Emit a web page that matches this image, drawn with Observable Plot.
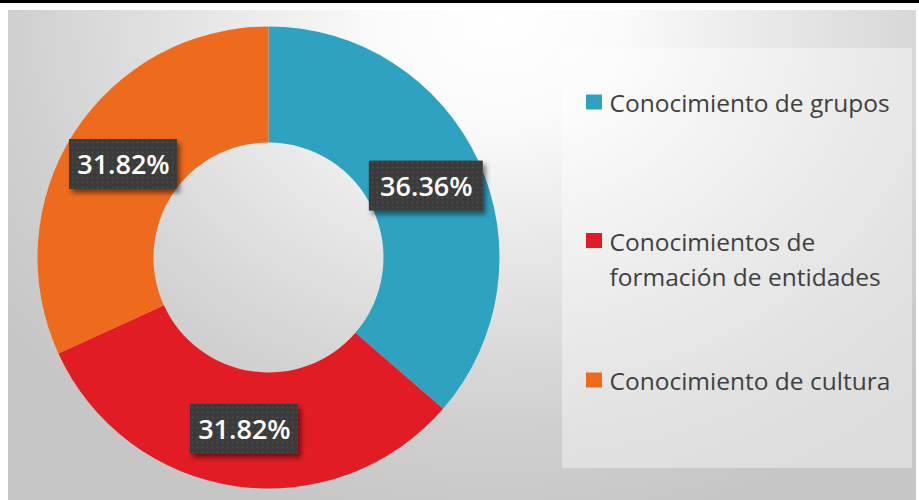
<!DOCTYPE html>
<html><head><meta charset="utf-8">
<script src="https://cdn.jsdelivr.net/npm/d3@7"></script>
<script src="https://cdn.jsdelivr.net/npm/@observablehq/plot@0.6"></script>
<style>
html,body{margin:0;padding:0;background:#fff;}
#wrap{position:relative;width:919px;height:500px;overflow:hidden;background:#fff;}
#topbar{position:absolute;left:0;top:0;width:919px;height:3px;background:#000;}
#panel{position:absolute;left:8px;top:10px;width:908px;height:490px;
 background:radial-gradient(ellipse 68% 105% at 54% 2%, #ffffff 0%, #fafafa 20%, #e4e4e4 50%, #d0d0d0 78%, #c6c6c6 100%);}
#chart{position:absolute;left:0;top:0;}
</style></head><body>
<div id="wrap"><div id="topbar"></div><div id="panel"></div><div id="chart"></div></div>
<script>
// ---- data ----
const categories = ["Conocimiento de grupos", "Conocimientos de formación de entidades", "Conocimiento de cultura"];
const legendLabels = ["Conocimiento de grupos", "Conocimientos de\nformación de entidades", "Conocimiento de cultura"];
const values = [36.36, 31.82, 31.82];
const colors = ["#2ea3c1", "#e11c24", "#ee6a1d"];

// ---- layout ----
const W = 919, H = 500;
const cx = 268.5, cy = 257.5, rOuter = 231, rInner = 115, rLabel = 173;
const legendRowY = [102, 240.5, 380];
const legendFont = 24.5, legendLine = 35;
const legendBox = {x1: 562, x2: 912, y1: 48, y2: 468};
const fontFamily = "'Open Sans', 'DejaVu Sans', sans-serif";

const pie = d3.pie().sort(null).value(d => d.value)(
  categories.map((c, i) => ({category: c, value: values[i]}))
);
const arc = d3.arc().innerRadius(rInner).outerRadius(rOuter);
const labelArc = d3.arc().innerRadius(rLabel).outerRadius(rLabel);
const fmt = v => v.toFixed(2) + "%";
const slices = pie.map(p => {
  const [lx, ly] = labelArc.centroid(p);
  return {...p, category: p.data.category, value: p.data.value, lx: cx + lx, ly: cy + ly, label: fmt(p.data.value)};
});
const legendData = categories.map((c, i) => {
  const lines = legendLabels[i].split("\n").length;
  return {category: c, label: legendLabels[i], y: legendRowY[i], ty: legendRowY[i] - 1.5 + (lines - 1) * legendLine / 2};
});
const boxWidth = d => {
  const ones = (d.label.match(/1/g) || []).length;
  return (d.label.length - ones) * 16 + ones * 10 + 18;
};

const NS = "http://www.w3.org/2000/svg";
function donutMark(index, scales) {
  const color = scales.color ?? d3.scaleOrdinal(categories, colors);
  const g = document.createElementNS(NS, "g");
  const sel = d3.select(g);
  const defs = sel.append("defs");
  const pat = defs.append("pattern").attr("id", "dots").attr("patternUnits", "userSpaceOnUse")
    .attr("width", 5).attr("height", 5);
  pat.append("rect").attr("width", 5).attr("height", 5).attr("fill", "#3a3a3a");
  pat.append("circle").attr("cx", 2.5).attr("cy", 2.5).attr("r", 1.1).attr("fill", "#4b4b4b");
  const f = defs.append("filter").attr("id", "shadow").attr("x", "-20%").attr("y", "-20%").attr("width", "150%").attr("height", "160%");
  f.append("feDropShadow").attr("dx", 3).attr("dy", 4).attr("stdDeviation", 2.5).attr("flood-color", "#000").attr("flood-opacity", 0.5);

  // legend background
  sel.append("rect").attr("x", legendBox.x1).attr("y", legendBox.y1)
    .attr("width", legendBox.x2 - legendBox.x1).attr("height", legendBox.y2 - legendBox.y1)
    .attr("fill", "#ffffff").attr("fill-opacity", 0.4);

  const ring = sel.append("g").attr("transform", `translate(${cx},${cy})`);
  ring.selectAll("path").data(slices).join("path")
    .attr("d", arc).attr("fill", d => color(d.category));

  sel.selectAll("rect.lbl").data(slices).join("rect").attr("class", "lbl")
    .attr("x", d => d.lx - boxWidth(d) / 2).attr("width", boxWidth)
    .attr("y", d => d.ly - 25).attr("height", 50)
    .attr("fill", "url(#dots)").attr("filter", "url(#shadow)");
  return g;
}

const chart = Plot.plot({
  width: W, height: H,
  margin: 0,
  x: {type: "identity", axis: null},
  y: {type: "identity", axis: null},
  color: {domain: categories, range: colors},
  style: {background: "transparent", overflow: "visible"},
  marks: [
    donutMark,
    Plot.text(slices, {x: "lx", y: "ly", text: "label", fill: "white", fontSize: 27, fontWeight: 600,
      fontFamily, textAnchor: "middle", dy: 1}),
    Plot.rect(legendData, {x1: 586, x2: 602, y1: d => d.y - 7.5, y2: d => d.y + 7.5, fill: "category"}),
    Plot.text(legendData, {x: 609, y: "ty", text: "label", textAnchor: "start", fill: "#404040",
      fontSize: legendFont, fontFamily, lineHeight: legendLine / legendFont})
  ]
});
document.getElementById("chart").appendChild(chart);
</script>
</body></html>
